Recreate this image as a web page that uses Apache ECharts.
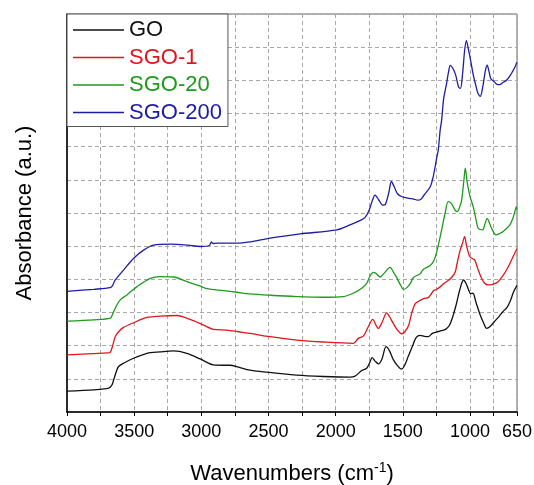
<!DOCTYPE html>
<html>
<head>
<meta charset="utf-8">
<script src="https://cdn.jsdelivr.net/npm/echarts@6/dist/echarts.min.js"></script>
<style>
html,body{margin:0;padding:0;background:#fff;}
#chart{width:534px;height:485px;}
</style>
</head>
<body>
<div id="chart"></div>
<script>
// ---- data (wavenumber cm-1, absorbance a.u.) ----
const seriesNames = ['GO', 'SGO-1', 'SGO-20', 'SGO-200'];
const xLabelValues = [4000, 3500, 3000, 2500, 2000, 1500, 1000, 650];
const xTickValues = [4000, 3750, 3500, 3250, 3000, 2750, 2500, 2250, 2000, 1750, 1500, 1250, 1000, 825, 650];

const GO = [[4000,0.63],[3800,0.67],[3690,0.72],[3665,0.82],[3653,0.96],[3630,1.25],[3616,1.37],[3579,1.47],[3505,1.62],[3405,1.77],[3306,1.81],[3207,1.84],[3108,1.77],[3009,1.60],[2910,1.42],[2835,1.41],[2786,1.41],[2736,1.37],[2661,1.28],[2513,1.20],[2290,1.11],[2092,1.07],[1893,1.05],[1856,1.08],[1806,1.25],[1769,1.32],[1745,1.50],[1729,1.64],[1710,1.55],[1682,1.45],[1655,1.60],[1625,1.97],[1600,1.85],[1571,1.58],[1540,1.40],[1510,1.29],[1490,1.38],[1460,1.67],[1430,1.97],[1400,2.25],[1370,2.31],[1340,2.28],[1311,2.27],[1280,2.37],[1250,2.41],[1211,2.45],[1180,2.50],[1155,2.60],[1130,2.85],[1100,3.28],[1075,3.70],[1048,3.98],[1030,3.88],[1010,3.68],[995,3.57],[978,3.58],[955,3.30],[926,2.95],[900,2.70],[876,2.52],[850,2.58],[820,2.72],[780,2.90],[750,3.05],[728,3.13],[700,3.35],[676,3.62],[650,3.82]];

const SGO1 = [[4000,1.72],[3800,1.76],[3700,1.78],[3678,1.80],[3660,2.00],[3641,2.27],[3616,2.42],[3579,2.55],[3505,2.69],[3405,2.85],[3306,2.89],[3182,2.91],[3083,2.79],[2984,2.62],[2910,2.49],[2810,2.47],[2724,2.42],[2637,2.37],[2488,2.27],[2290,2.17],[2092,2.11],[1869,2.07],[1831,2.22],[1794,2.29],[1757,2.57],[1724,2.79],[1700,2.62],[1683,2.52],[1655,2.70],[1620,2.99],[1600,2.88],[1571,2.67],[1540,2.47],[1509,2.36],[1485,2.42],[1457,2.61],[1434,2.98],[1407,3.27],[1372,3.36],[1345,3.42],[1311,3.45],[1290,3.55],[1271,3.66],[1248,3.70],[1220,3.78],[1196,3.87],[1160,3.97],[1134,4.07],[1110,4.22],[1095,4.50],[1075,4.85],[1055,5.10],[1040,5.29],[1025,5.00],[1001,4.68],[980,4.62],[964,4.58],[940,4.30],[914,4.03],[890,3.88],[865,3.83],[830,3.85],[790,3.93],[760,4.08],[728,4.28],[700,4.50],[675,4.72],[651,4.92]];

const SGO20 = [[4000,2.74],[3800,2.78],[3678,2.83],[3660,2.95],[3641,3.13],[3604,3.38],[3554,3.53],[3479,3.78],[3380,4.03],[3306,4.08],[3207,4.07],[3108,3.93],[3009,3.80],[2960,3.72],[2835,3.66],[2736,3.61],[2637,3.56],[2488,3.52],[2290,3.48],[2092,3.46],[1943,3.48],[1869,3.58],[1806,3.73],[1769,3.88],[1744,4.10],[1720,4.21],[1700,4.18],[1668,4.07],[1640,4.18],[1595,4.36],[1570,4.22],[1545,4.05],[1520,3.85],[1494,3.70],[1470,3.75],[1445,3.87],[1422,4.05],[1370,4.17],[1348,4.30],[1296,4.42],[1270,4.55],[1246,4.85],[1211,5.49],[1185,6.00],[1162,6.34],[1140,6.30],[1110,6.08],[1095,6.04],[1075,6.20],[1062,6.39],[1045,7.00],[1035,7.35],[1020,6.90],[1000,6.50],[976,6.19],[955,5.80],[939,5.54],[906,5.49],[890,5.65],[872,5.84],[855,5.70],[839,5.54],[807,5.34],[780,5.38],[753,5.44],[703,5.64],[680,5.85],[666,6.04],[655,6.19],[650,6.10]];

const SGO200 = [[4000,3.64],[3800,3.70],[3678,3.75],[3660,3.82],[3641,3.98],[3579,4.28],[3505,4.63],[3430,4.88],[3356,5.03],[3232,5.06],[3100,5.03],[3009,4.99],[2940,5.02],[2925,5.13],[2915,5.08],[2880,5.09],[2736,5.09],[2637,5.13],[2488,5.24],[2265,5.37],[1992,5.49],[1893,5.64],[1820,5.77],[1782,5.86],[1750,6.09],[1725,6.40],[1707,6.54],[1680,6.40],[1650,6.24],[1630,6.26],[1605,6.60],[1585,6.95],[1565,6.80],[1540,6.58],[1506,6.49],[1450,6.44],[1419,6.42],[1390,6.39],[1370,6.40],[1340,6.55],[1296,6.79],[1274,7.09],[1246,7.70],[1236,7.90],[1222,8.50],[1211,8.80],[1196,9.45],[1174,9.91],[1160,10.25],[1146,10.45],[1130,10.38],[1108,10.18],[1085,9.80],[1071,9.76],[1055,10.20],[1040,10.90],[1027,11.20],[1015,11.00],[993,10.55],[975,10.15],[960,9.90],[940,9.60],[923,9.52],[905,9.80],[885,10.30],[872,10.46],[860,10.30],[845,10.05],[826,9.98],[800,9.88],[778,9.87],[750,9.95],[726,10.01],[700,10.15],[685,10.25],[665,10.40],[651,10.55]];

const seriesData = [GO, SGO1, SGO20, SGO200];
const colors = ['#111111', '#e0161c', '#1e9a1e', '#1c1ca6'];
const FONT = "'Liberation Sans', Arial, sans-serif";

const chart = echarts.init(document.getElementById('chart'), null, {renderer: 'canvas'});
const option = {
  backgroundColor: '#ffffff',
  animation: false,
  grid: {
    left: 67, right: 17, top: 14, bottom: 73,
    outerBoundsMode: 'none',
    containLabel: false,
    show: true, borderColor: '#666', borderWidth: 1, backgroundColor: 'transparent'
  },
  legend: {
    orient: 'vertical',
    left: 67, top: 14,
    padding: [5, 6, 3, 6],
    itemGap: 5.5,
    itemWidth: 51,
    itemHeight: 1.4,
    icon: 'rect',
    backgroundColor: '#ffffff',
    borderColor: '#555',
    borderWidth: 1,
    borderRadius: 0,
    textStyle: {fontSize: 22, fontFamily: FONT},
    data: seriesNames.map((n, i) => ({name: n, icon: 'rect', itemStyle: {color: colors[i], borderWidth: 0}, textStyle: {color: colors[i], fontSize: 22, fontFamily: FONT}}))
  },
  xAxis: {
    type: 'value',
    min: 650, max: 4000,
    inverse: true,
    name: '{a|Wavenumbers (cm}{s|-1}{a|)}',
    nameLocation: 'middle',
    nameGap: 49,
    nameTextStyle: {
      color: '#000',
      rich: {
        a: {fontSize: 22, fontFamily: FONT, color: '#000', verticalAlign: 'bottom', lineHeight: 24},
        s: {fontSize: 14, fontFamily: FONT, color: '#000', verticalAlign: 'top', lineHeight: 24}
      }
    },
    axisLine: {show: true, onZero: false, lineStyle: {color: '#000', width: 1.5}},
    axisTick: {show: true, inside: false, length: 4, customValues: xTickValues, lineStyle: {color: '#000', width: 1}},
    axisLabel: {show: true, customValues: xLabelValues, margin: 11, fontSize: 18, fontFamily: FONT, color: '#000',
      formatter: v => String(Math.round(v))},
    splitLine: {show: true, lineStyle: {color: '#a8a8a8', type: [4, 3], width: 1}}
  },
  yAxis: {
    type: 'value',
    min: 0, max: 12, interval: 1,
    name: 'Absorbance (a.u.)',
    nameLocation: 'middle',
    nameGap: 31,
    nameRotate: 90,
    nameTextStyle: {fontSize: 22, fontFamily: FONT, color: '#000'},
    axisLine: {show: true, lineStyle: {color: '#000', width: 1.5}},
    axisTick: {show: false},
    axisLabel: {show: false},
    splitLine: {show: true, lineStyle: {color: '#a8a8a8', type: [4, 3], width: 1}}
  },
  series: seriesNames.map((n, i) => ({
    name: n,
    type: 'line',
    data: seriesData[i],
    symbol: 'none',
    showSymbol: false,
    smooth: 0.3,
    lineStyle: {color: colors[i], width: 1.3},
    itemStyle: {color: colors[i]},
    z: 2 + i
  }))
};
chart.setOption(option);
</script>
</body>
</html>
